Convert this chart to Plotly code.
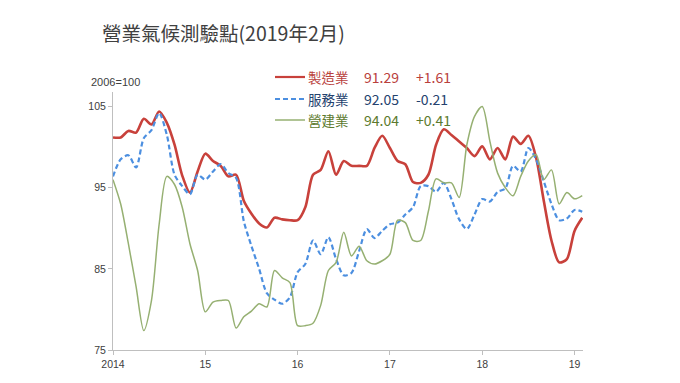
import plotly.graph_objects as go

# ---- data (monthly, Jan 2014 - Feb 2019) ----
months = list(range(62))
manufacturing = [101.2, 101.2, 102.0, 101.8, 103.5, 102.8, 104.4, 103.0, 100.3, 96.5, 94.4, 97.0,
                 99.2, 98.3, 97.7, 96.4, 96.6, 93.4, 91.8, 90.6, 90.1, 91.3, 91.1, 91.0,
                 91.0, 92.6, 96.6, 97.2, 99.5, 96.6, 98.3, 97.7, 97.7, 97.7, 99.9, 101.4,
                 99.9, 98.3, 97.9, 95.7, 95.6, 96.6, 100.3, 102.2, 101.5, 100.7, 99.9, 98.9,
                 100.1, 98.5, 99.9, 98.5, 101.3, 100.4, 101.4, 98.7, 93.4, 88.5, 85.8, 86.2,
                 89.68, 91.29]
services = [96.4, 98.5, 99.0, 97.5, 101.1, 102.1, 104.2, 101.5, 96.6, 95.2, 94.2, 96.6,
            96.0, 97.0, 97.9, 96.8, 96.2, 90.9, 87.8, 85.0, 82.0, 81.2, 80.7, 81.5,
            84.6, 85.6, 88.5, 86.8, 88.9, 86.2, 84.2, 84.5, 87.2, 89.9, 88.8, 89.7,
            90.5, 90.7, 91.7, 92.6, 95.2, 95.2, 94.5, 95.6, 93.6, 91.1, 89.9, 91.7,
            93.6, 93.3, 94.5, 94.9, 97.7, 97.0, 99.9, 98.5, 95.8, 93.0, 91.0, 91.2,
            92.26, 92.05]
construction = [96.0, 93.0, 88.1, 82.8, 77.4, 81.1, 90.5, 96.4, 95.4, 92.6, 88.1, 84.8,
                79.7, 80.9, 81.1, 81.1, 77.7, 79.1, 79.8, 80.7, 80.3, 84.8, 83.9, 83.3,
                78.0, 78.0, 78.3, 80.5, 84.8, 85.8, 89.5, 86.6, 87.8, 86.0, 85.6, 86.0,
                86.8, 91.0, 90.7, 88.5, 88.5, 92.1, 96.1, 95.6, 95.6, 93.8, 100.3, 103.8,
                105.0, 100.7, 96.8, 95.0, 94.0, 96.4, 98.3, 99.1, 96.0, 97.2, 93.0, 94.4,
                93.63, 94.04]

series_names = ["製造業", "服務業", "營建業"]
latest_values = ["91.29", "92.05", "94.04"]
changes = ["+1.61", "-0.21", "+0.41"]

tick_vals = [0, 12, 24, 36, 48, 60]
tick_text = ["2014", "15", "16", "17", "18", "19"]
y_ticks = [75, 85, 95, 105]

title_text = "營業氣候測驗點(2019年2月)"
unit_text = "2006=100"

# ---- styles ----
line_colors = ["#C8413B", "#4C8FE0", "#96B072"]
text_colors = ["#B9403C", "#24426E", "#5C7A2E"]
dashes = ["solid", "5px,3px", "solid"]
widths = [2.6, 2.2, 1.5]

OFF = 8  # page body margin offset
W, H = 680, 383
L, R, T, B = 113 - OFF, 583 - OFF, 92 - OFF, 350 - OFF


def px(x):
    return (x - OFF - L) / (R - L)


def py(y):
    return (B - (y - OFF)) / (B - T)


fig = go.Figure()
for name, ys, c, d, w in zip(series_names, [manufacturing, services, construction],
                             line_colors, dashes, widths):
    fig.add_trace(go.Scatter(x=months, y=ys, mode="lines", name=name,
                             line=dict(color=c, dash=d, width=w, shape="spline", smoothing=0.8),
                             showlegend=False))

cjk = "Noto Sans CJK TC"
annotations = [
    dict(text=title_text, x=px(100), y=py(32), xref="paper", yref="paper",
         xanchor="left", yanchor="middle", showarrow=False,
         font=dict(family=cjk, size=19.5, color="#404040")),
    dict(text=unit_text, x=px(89), y=py(82), xref="paper", yref="paper",
         xanchor="left", yanchor="middle", showarrow=False,
         font=dict(family="Liberation Sans", size=11, color="#404040")),
]
shapes = []
row_y = [77, 99, 120]
for i in range(3):
    shapes.append(dict(type="line", xref="paper", yref="paper",
                       x0=px(275), x1=px(305), y0=py(row_y[i]), y1=py(row_y[i]),
                       line=dict(color=line_colors[i], width=2.2 if i == 0 else widths[i],
                                 dash=dashes[i])))
    annotations.append(dict(text=series_names[i], x=px(306), y=py(row_y[i]), xref="paper", yref="paper",
                            xanchor="left", yanchor="middle", showarrow=False,
                            font=dict(family=cjk, size=13.5, color=text_colors[i])))
    annotations.append(dict(text=latest_values[i], x=px(362), y=py(row_y[i]), xref="paper", yref="paper",
                            xanchor="left", yanchor="middle", showarrow=False,
                            font=dict(family=cjk, size=14, color=text_colors[i])))
    annotations.append(dict(text=changes[i], x=px(414), y=py(row_y[i]), xref="paper", yref="paper",
                            xanchor="left", yanchor="middle", showarrow=False,
                            font=dict(family=cjk, size=14, color=text_colors[i])))

fig.update_layout(
    width=W, height=H,
    margin=dict(l=L, r=W - R, t=T, b=H - B),
    paper_bgcolor="white", plot_bgcolor="white",
    annotations=annotations, shapes=shapes,
    xaxis=dict(range=[0, 61.1], tickvals=tick_vals, ticktext=tick_text,
               showgrid=False, zeroline=False, showline=True, linecolor="#BFBFBF", linewidth=1,
               ticks="outside", ticklen=4, tickcolor="#BFBFBF",
               tickfont=dict(family="Liberation Sans", size=10.5, color="#404040")),
    yaxis=dict(range=[75, 106.8], tickvals=y_ticks,
               showgrid=False, zeroline=False, showline=True, linecolor="#BFBFBF", linewidth=1,
               ticks="outside", ticklen=4, tickcolor="#BFBFBF",
               tickfont=dict(family="Liberation Sans", size=10.5, color="#404040")),
)

fig.write_html("out.html")
